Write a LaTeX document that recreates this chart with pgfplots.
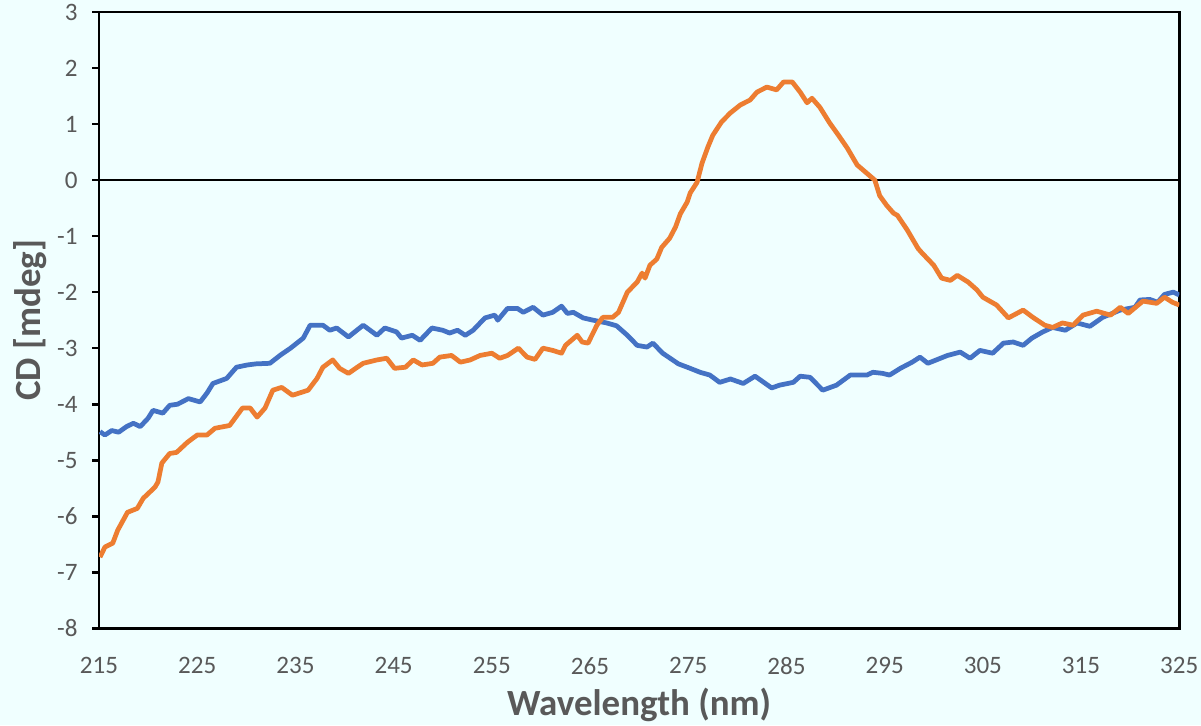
\documentclass[border=0pt]{standalone}
\usepackage{pgfplots}
\pgfplotsset{compat=1.18}
\usepackage{fontspec}
\setmainfont{Carlito}
\definecolor{bgc}{HTML}{F0FFFF}
\definecolor{txt}{HTML}{595959}
\definecolor{cblue}{HTML}{4472C4}
\definecolor{corange}{HTML}{ED7D31}
\begin{document}
\begin{tikzpicture}
\fill[bgc] (-1.319cm,-1.292cm) rectangle (14.68cm,8.37cm);
\begin{axis}[
  at={(0,0)}, anchor=south west,
  width=14.39cm, height=8.21cm, scale only axis,
  xmin=215, xmax=325, ymin=-8, ymax=3,
  axis background/.style={fill=bgc},
  axis line style={black, line width=1pt},
  xtick={215,225,...,325},
  xticklabels={215,225,235,245,255,265,275,285,295,305,315,325},
  ytick={-8,-7,...,3},
  yticklabels={-8,-7,-6,-5,-4,-3,-2,-1,0,1,2,3},
  ytick pos=left, tick align=outside,
  major tick length=2.6pt,
  x tick style={draw=none},
  y tick style={black, line width=1pt},
  xticklabel style={font=\fontsize{9.5}{11}\selectfont, text=txt, anchor=north, yshift=-5pt},
  yticklabel style={font=\fontsize{9.5}{11}\selectfont, text=txt, anchor=east, xshift=-2pt},
  every axis x label/.style={at={(axis description cs:0.5,-0.125)}, anchor=center},
  every axis y label/.style={at={(axis description cs:-0.0639,0.5)}, rotate=90, anchor=center},
  xlabel={\textbf{Wavelength (nm)}},
  ylabel={\textbf{CD [mdeg]}},
  label style={font=\fontsize{14}{16}\selectfont, text=txt},
  clip=true,
]
\addplot[black, line width=1pt, forget plot] coordinates {(215,0) (325,0)};
\addplot[cblue, line width=1.8pt, line join=round] table {
215.1 -4.49
215.6 -4.55
216.3 -4.47
217 -4.5
217.8 -4.4
218.5 -4.34
219.2 -4.40
220 -4.25
220.5 -4.11
221.5 -4.16
222.2 -4.02
223 -4.0
224.1 -3.9
225.3 -3.96
226 -3.8
226.6 -3.63
228 -3.54
229 -3.34
230.1 -3.3
231 -3.28
232.4 -3.27
233.5 -3.12
234.5 -3.0
235.8 -2.82
236.5 -2.59
237.8 -2.59
238.5 -2.68
239.2 -2.64
240.4 -2.8
241.9 -2.59
243.3 -2.77
244.1 -2.64
245.3 -2.71
245.8 -2.82
246.9 -2.77
247.7 -2.86
248.9 -2.64
250 -2.68
250.7 -2.73
251.5 -2.68
252.3 -2.77
253.1 -2.68
254.3 -2.46
255.3 -2.41
255.6 -2.5
256.6 -2.29
257.6 -2.29
258.2 -2.36
259.2 -2.27
260.2 -2.41
261.2 -2.36
262.1 -2.25
262.7 -2.38
263.3 -2.36
264.3 -2.46
265.3 -2.5
266.7 -2.55
267.7 -2.6
268.8 -2.77
269.8 -2.95
270.8 -2.98
271.4 -2.91
272.4 -3.09
274 -3.28
275.2 -3.36
276.2 -3.43
277.2 -3.48
278.2 -3.61
279.3 -3.55
280.6 -3.63
281.8 -3.5
283.5 -3.71
284.3 -3.66
285.7 -3.61
286.4 -3.5
287.4 -3.52
288.7 -3.75
290.1 -3.66
291.5 -3.48
293.2 -3.48
293.8 -3.43
294.8 -3.45
295.5 -3.48
296.6 -3.36
297.8 -3.25
298.6 -3.16
299.4 -3.27
301.4 -3.13
302.7 -3.07
303.7 -3.18
304.7 -3.04
306 -3.09
307.1 -2.91
308.1 -2.89
309.1 -2.95
310 -2.82
311.1 -2.71
312.1 -2.63
313.4 -2.68
314.6 -2.55
315.9 -2.61
317.2 -2.45
319 -2.32
320.5 -2.27
321 -2.14
322 -2.13
322.8 -2.18
323.5 -2.04
324.4 -2.0
325 -2.05
};
\addplot[corange, line width=1.8pt, line join=round] table {
215.1 -6.73
215.6 -6.55
216.4 -6.48
216.9 -6.25
217.9 -5.93
218.9 -5.86
219.5 -5.68
220.7 -5.48
221 -5.39
221.4 -5.05
222.2 -4.88
222.9 -4.86
224 -4.68
225 -4.55
226 -4.55
226.8 -4.43
228.3 -4.38
229.6 -4.07
230.4 -4.07
231.1 -4.23
231.9 -4.07
232.7 -3.75
233.6 -3.7
234.7 -3.84
236.3 -3.75
237.2 -3.54
237.8 -3.34
238.8 -3.21
239.5 -3.36
240.4 -3.45
241.3 -3.34
241.9 -3.27
243.3 -3.21
244.3 -3.18
245.1 -3.36
246.2 -3.34
247 -3.21
247.9 -3.3
249 -3.27
249.7 -3.16
250.9 -3.13
251.8 -3.25
252.8 -3.21
253.8 -3.13
255 -3.09
255.8 -3.18
256.6 -3.13
257.7 -3.0
258.6 -3.16
259.4 -3.2
260.2 -3.0
261.2 -3.04
262.1 -3.09
262.5 -2.95
263.7 -2.77
264.2 -2.89
264.8 -2.91
265.7 -2.59
266.3 -2.45
267.3 -2.45
267.9 -2.36
268.8 -2.0
269.8 -1.82
270.3 -1.66
270.6 -1.75
271.1 -1.52
271.8 -1.41
272.3 -1.2
273.1 -1.04
273.7 -0.84
274.2 -0.6
274.9 -0.39
275.2 -0.23
275.9 -0.04
276.4 0.3
277 0.59
277.5 0.8
278.4 1.04
279.3 1.2
280.3 1.34
281.3 1.43
282 1.57
283 1.66
284 1.61
284.7 1.75
285.6 1.75
286.4 1.57
287.1 1.38
287.6 1.46
288.4 1.3
289.4 1.02
290.3 0.8
291.2 0.57
292.2 0.27
293.2 0.12
294 0.0
294.5 -0.28
295.2 -0.45
295.9 -0.59
296.3 -0.63
297.3 -0.89
298.4 -1.22
298.8 -1.3
300 -1.52
300.8 -1.75
301.7 -1.79
302.4 -1.7
303.5 -1.82
304.4 -1.96
305 -2.09
306.4 -2.23
307.6 -2.46
309.1 -2.32
310.1 -2.45
311.3 -2.59
312.1 -2.63
313.1 -2.55
314.2 -2.59
315.2 -2.41
316.6 -2.34
318 -2.41
319 -2.27
319.8 -2.38
321.3 -2.16
322.7 -2.2
323.5 -2.09
324.3 -2.18
325 -2.23
};
\end{axis}
\pgfresetboundingbox
\path[use as bounding box] (-1.319cm,-1.292cm) rectangle (14.68cm,8.37cm);
\end{tikzpicture}
\end{document}
